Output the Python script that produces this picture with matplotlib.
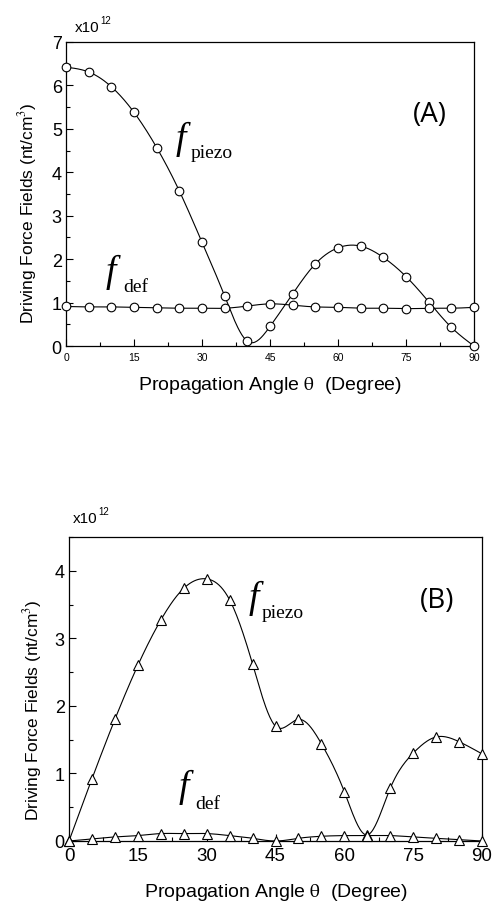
import numpy as np
import matplotlib
matplotlib.use("Agg")
import matplotlib.pyplot as plt
from matplotlib.ticker import MultipleLocator

plt.rcParams["mathtext.fontset"] = "stix"

# propagation angle (degree)
theta = [0, 5, 10, 15, 20, 25, 30, 35, 40, 45, 50, 55, 60, 65, 70, 75, 80, 85, 90]

# (A) driving force fields, units of 1e12 nt/cm^3
piezo_a = [6.42, 6.31, 5.97, 5.38, 4.57, 3.57, 2.39, 1.15, 0.11, 0.45, 1.20, 1.89,
           2.26, 2.30, 2.04, 1.60, 1.02, 0.43, 0.0]
def_a = [0.91, 0.90, 0.90, 0.89, 0.88, 0.87, 0.87, 0.87, 0.92, 0.97, 0.94, 0.90,
         0.89, 0.87, 0.87, 0.86, 0.87, 0.87, 0.89]

# (B)
piezo_b = [0.0, 0.92, 1.80, 2.60, 3.27, 3.74, 3.88, 3.57, 2.62, 1.70, 1.80, 1.44,
           0.73, 0.09, 0.78, 1.30, 1.54, 1.47, 1.29]
def_b = [0.0, 0.03, 0.06, 0.08, 0.11, 0.11, 0.11, 0.08, 0.04, 0.0, 0.04, 0.07,
         0.08, 0.08, 0.08, 0.06, 0.04, 0.02, 0.0]

xticks = [0, 15, 30, 45, 60, 75, 90]

SANS = "Liberation Sans"
SERIF = "Liberation Serif"


def spline(x, y, n=400):
    # natural cubic spline through the points, for the smooth connecting line
    x = np.asarray(x, float)
    y = np.asarray(y, float)
    h = np.diff(x)
    k = len(x)
    A = np.zeros((k, k))
    r = np.zeros(k)
    A[0, 0] = A[-1, -1] = 1.0
    for i in range(1, k - 1):
        A[i, i - 1] = h[i - 1]
        A[i, i] = 2 * (h[i - 1] + h[i])
        A[i, i + 1] = h[i]
        r[i] = 3 * ((y[i + 1] - y[i]) / h[i] - (y[i] - y[i - 1]) / h[i - 1])
    c = np.linalg.solve(A, r)
    b = (y[1:] - y[:-1]) / h - h * (2 * c[:-1] + c[1:]) / 3
    d = (c[1:] - c[:-1]) / (3 * h)
    xs = np.linspace(x[0], x[-1], n)
    idx = np.clip(np.searchsorted(x, xs) - 1, 0, k - 2)
    t = xs - x[idx]
    ys = y[idx] + b[idx] * t + c[idx] * t ** 2 + d[idx] * t ** 3
    return xs, ys


def draw_series(ax, y, marker, ms):
    xs, ys = spline(theta, y)
    ax.plot(xs, ys, color="black", lw=0.8, zorder=2)
    ax.plot(theta, y, linestyle="none", marker=marker, ms=ms, mfc="white",
            mec="black", mew=0.8, zorder=3, clip_on=False)


def style_axes(ax, ymax, xsize, ysize):
    ax.set_xlim(0, 90)
    ax.set_ylim(0, ymax)
    ax.set_xticks(xticks)
    ax.xaxis.set_minor_locator(MultipleLocator(7.5))
    ax.yaxis.set_major_locator(MultipleLocator(1))
    ax.yaxis.set_minor_locator(MultipleLocator(0.5))
    ax.tick_params(which="both", direction="in", top=False, right=False, width=0.8)
    ax.tick_params(which="major", length=5)
    ax.tick_params(which="minor", length=3)
    ax.tick_params(axis="x", labelsize=xsize, pad=4)
    ax.tick_params(axis="y", labelsize=ysize, pad=3)
    for lab in ax.get_xticklabels() + ax.get_yticklabels():
        lab.set_fontfamily(SANS)
    for s in ax.spines.values():
        s.set_linewidth(0.9)


def f_label(fig, x, y, sub, sx, sy):
    fig.text(x / W, 1 - y / H, "f", fontfamily=SERIF, style="italic", fontsize=27,
             va="baseline", ha="left")
    fig.text(sx / W, 1 - sy / H, sub, fontfamily=SERIF, fontsize=14,
             va="baseline", ha="left")


W, H = 494, 904
fig = plt.figure(figsize=(W / 100, H / 100), dpi=100)

# ---- panel A ----
ax1 = fig.add_axes([66 / W, 1 - 347 / H, 408 / W, 304 / H])
draw_series(ax1, piezo_a, "o", 6.2)
draw_series(ax1, def_a, "o", 6.2)
style_axes(ax1, 7, 7.5, 13)

# ---- panel B ----
ax2 = fig.add_axes([69 / W, 1 - 842 / H, 413 / W, 304 / H])
draw_series(ax2, piezo_b, "^", 6.5)
draw_series(ax2, def_b, "^", 6.5)
style_axes(ax2, 4.5, 13.5, 13)

# axis titles
xlab = r"Propagation Angle $\mathrm{\theta}$  (Degree)"
ylab = "Driving Force Fields (nt/cm$^3$)"
fig.text(270 / W, 1 - 386 / H, xlab, fontfamily=SANS, fontsize=14,
         ha="center", va="center")
fig.text(276 / W, 1 - 893 / H, xlab, fontfamily=SANS, fontsize=14,
         ha="center", va="center")
fig.text(28 / W, 1 - 213 / H, ylab, fontfamily=SANS, fontsize=12.5,
         rotation=90, ha="center", va="center")
fig.text(32 / W, 1 - 710 / H, ylab, fontfamily=SANS, fontsize=12.5,
         rotation=90, ha="center", va="center")

# scale factor above each y axis
for x0, y0 in [(75, 32), (73, 523)]:
    fig.text(x0 / W, 1 - y0 / H, "x10", fontfamily=SANS, fontsize=11,
             va="baseline", ha="left")
    fig.text((x0 + 25) / W, 1 - (y0 - 8) / H, "12", fontfamily=SANS, fontsize=7,
             va="baseline", ha="left")

# curve labels
f_label(fig, 176, 149, "piezo", 191, 158)
f_label(fig, 106, 282, "def", 123, 292)
f_label(fig, 249, 608, "piezo", 262, 618)
f_label(fig, 179, 797, "def", 195, 809)

# panel tags
fig.text(430 / W, 1 - 115 / H, "(A)", fontfamily="Open Sans", fontsize=20,
         ha="center", va="center")
fig.text(437 / W, 1 - 601 / H, "(B)", fontfamily="Open Sans", fontsize=20,
         ha="center", va="center")

fig.savefig("out.png", dpi=100)
